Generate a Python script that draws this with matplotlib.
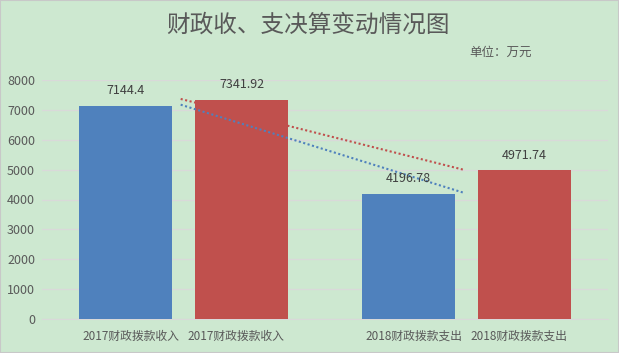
import numpy as np
import matplotlib
matplotlib.use('Agg')
import matplotlib.pyplot as plt
from matplotlib.patches import Rectangle

plt.rcParams['font.family'] = ['Noto Sans CJK SC', 'DejaVu Sans']

years = ['2017', '2018']
labels_2017 = ['2017财政拨款收入', '2017财政拨款收入']
labels_2018 = ['2018财政拨款支出', '2018财政拨款支出']
blue_vals = [7144.4, 4196.78]
red_vals = [7341.92, 4971.74]
blue_text = ['7144.4', '4196.78']
red_text = ['7341.92', '4971.74']

bg = '#cde8d0'
c_blue = '#4f81bd'
c_red = '#c0504d'
txt = '#595959'

fig = plt.figure(figsize=(6.19, 3.53), dpi=100, facecolor=bg)
ax = fig.add_axes([42/619, 34/353, 566/619, 239/353])
ax.set_facecolor(bg)

x = np.arange(len(years))
off = 0.205
w = 0.332
ax.bar(x - off, blue_vals, w, color=c_blue, zorder=3)
ax.bar(x + off, red_vals, w, color=c_red, zorder=3)

for xi, v, t in zip(x - off, blue_vals, blue_text):
    ax.text(xi, v + 280, t, ha='center', va='bottom', fontsize=9, color='#404040', zorder=5)
for xi, v, t in zip(x + off, red_vals, red_text):
    ax.text(xi, v + 280, t, ha='center', va='bottom', fontsize=9, color='#404040', zorder=5)

# linear trend lines (through the two points of each series)
xt = np.array([-0.01, 0.99])
for vals, c in [(blue_vals, c_blue), (red_vals, c_red)]:
    k, b = np.polyfit(x, vals, 1)
    ax.plot(xt, k * xt + b, linestyle=(0, (1, 1.2)), color=c, lw=1.5, zorder=4)

ax.set_xlim(-0.5, 1.5)
ax.set_ylim(0, 8000)
ax.set_yticks(range(0, 8001, 1000))
ax.yaxis.grid(True, color='#d9d9d9', lw=1, zorder=0)
ax.tick_params(axis='y', length=0, labelsize=9, colors=txt, pad=5)
loff = 0.187
ax.set_xticks([-loff, loff, 1 - loff, 1 + loff])
ax.set_xticklabels([labels_2017[0], labels_2017[1], labels_2018[0], labels_2018[1]])
ax.tick_params(axis='x', length=0, labelsize=8.5, colors=txt, pad=8)
for s in ['top', 'right', 'left']:
    ax.spines[s].set_visible(False)
ax.spines['bottom'].set_color('#d9d9d9')

fig.text(0.497, 1 - 25/353, '财政收、支决算变动情况图', ha='center', va='center',
         fontsize=17, color=txt)
fig.text(501/619, 1 - 52/353, '单位：万元', ha='center', va='center',
         fontsize=9, color=txt)

fig.patches.append(Rectangle((0, 0), 1, 1, transform=fig.transFigure,
                             fill=False, edgecolor='#c8c8c8', lw=1.5))

fig.savefig('out.png', dpi=100, facecolor=bg)
